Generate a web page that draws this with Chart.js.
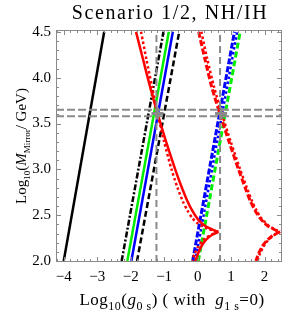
<!DOCTYPE html>
<html>
<head>
<meta charset="utf-8">
<script src="https://cdn.jsdelivr.net/npm/chart.js@4"></script>
<style>
  body { margin: 0; background: #fff; }
  canvas { display: block; }
</style>
</head>
<body>
<canvas id="myChart" width="291" height="313"></canvas>
<script>
// Axis ranges and tick labels
const xMin = -4.23, xMax = 2.52, yMin = 1.99, yMax = 4.52;
const xTicks = [-4, -3, -2, -1, 0, 1, 2];
const yTicks = [2.0, 2.5, 3.0, 3.5, 4.0, 4.5];

// Straight lines: x values at y = 2.0 and y = 4.5
const lineY = [2.0, 4.5];
const blackSolidX = [-4.0, -2.79];
const blackDashDotX = [-2.27, -1.02];
const greenSolidX = [-2.10, -0.86];
const blueSolidX = [-1.98, -0.74];
const blackDashedX = [-1.81, -0.55];
const blueDashedX = [-0.15, 1.10];
const blueDotX = [-0.07, 1.18];
const greenDashedX = [0.02, 1.27];

// Red curves: upper branch (top -> cusp) and lower branch (cusp -> bottom)
const upperY = [4.5, 4.2, 3.9, 3.6, 3.3, 3.0, 2.8, 2.65, 2.55, 2.47, 2.42, 2.38, 2.35, 2.33, 2.32];
const lowerY = [2.32, 2.29, 2.26, 2.22, 2.16, 2.08, 2.0];
const redSolidUpperX = [-1.84, -1.63, -1.42, -1.19, -0.94, -0.67, -0.47, -0.30, -0.16, -0.02, 0.10, 0.24, 0.40, 0.53, 0.62];
const redSolidLowerX = [0.62, 0.45, 0.33, 0.22, 0.11, 0.01, -0.07];
const redDotUpperX = [-1.69, -1.53, -1.36, -1.19, -1.00, -0.78, -0.60, -0.44, -0.30, -0.16, -0.03, 0.14, 0.33, 0.50, 0.62];
const redDotLowerX = [0.62, 0.42, 0.27, 0.14, 0.02, -0.09, -0.17];
const redDashUpperX = [0.03, 0.22, 0.42, 0.67, 0.94, 1.22, 1.42, 1.58, 1.72, 1.86, 1.98, 2.11, 2.26, 2.38, 2.46];
const redDashLowerX = [2.46, 2.30, 2.18, 2.06, 1.93, 1.82, 1.74];
const redDash2UpperX = [0.11, 0.29, 0.49, 0.73, 0.99, 1.27, 1.47, 1.63, 1.76, 1.90, 2.02, 2.14, 2.28, 2.39, 2.46];
const redDash2LowerX = [2.46, 2.31, 2.20, 2.09, 1.97, 1.86, 1.79];

// Gray reference lines and crossing markers
const grayVX = [-1.23, 0.67];
const grayHY = [3.58, 3.65];
const crossX = [-1.2, 0.7];
const crossY = [3.61, 3.61];

const GRAY = '#8a8a8a';
const SERIF = '"Liberation Serif", "DejaVu Serif", serif';

function pts(xs, ys) {
    return xs.map(function (x, i) { return { x: x, y: ys[i] }; });
}

function curve(label, xs, ys, color, width, dash, tension) {
    return {
        label: label,
        data: pts(xs, ys),
        borderColor: color,
        borderWidth: width,
        borderDash: dash || [],
        pointRadius: 0,
        tension: tension || 0,
        fill: false
    };
}

const datasets = [];
// gray markers and dashed guides (first = drawn on top)
datasets.push({
    label: 'cross',
    data: pts(crossX, crossY),
    showLine: false,
    pointStyle: 'cross',
    pointRadius: 6,
    borderWidth: 3,
    borderColor: GRAY,
    backgroundColor: GRAY
});
grayVX.forEach(function (x, i) {
    datasets.push(curve('v' + i, [x, x], [yMin, yMax], GRAY, 2, [7, 4]));
});
grayHY.forEach(function (y, i) {
    datasets.push(curve('h' + i, [xMin, xMax], [y, y], GRAY, 2, [8, 3]));
});
// red curves
datasets.push(curve('redSolidU', redSolidUpperX, upperY, '#ff0000', 2.5, [], 0.25));
datasets.push(curve('redSolidL', redSolidLowerX, lowerY, '#ff0000', 2.5, [], 0.25));
datasets.push(curve('redDotU', redDotUpperX, upperY, '#ff0000', 2.5, [2.5, 2.5], 0.25));
datasets.push(curve('redDotL', redDotLowerX, lowerY, '#ff0000', 2.5, [2.5, 2.5], 0.25));
datasets.push(curve('redDashU', redDashUpperX, upperY, '#ff0000', 3, [6, 2.5], 0.25));
datasets.push(curve('redDashL', redDashLowerX, lowerY, '#ff0000', 3, [6, 2.5], 0.25));
datasets.push(curve('redDash2U', redDash2UpperX, upperY, '#ff0000', 2.5, [2.5, 2.5], 0.25));
datasets.push(curve('redDash2L', redDash2LowerX, lowerY, '#ff0000', 2.5, [2.5, 2.5], 0.25));
// straight lines
datasets.push(curve('blueDashed', blueDashedX, lineY, '#0000ff', 3, [6, 2]));
datasets.push(curve('blueDot', blueDotX, lineY, '#0000ff', 2.5, [2.5, 2.5]));
datasets.push(curve('greenDashed', greenDashedX, lineY, '#00ee00', 3, [6, 3]));
datasets.push(curve('blackDashed', blackDashedX, lineY, '#000000', 2.5, [6, 3]));
datasets.push(curve('blueSolid', blueSolidX, lineY, '#0000ff', 2.5));
datasets.push(curve('greenSolid', greenSolidX, lineY, '#00ee00', 2.5));
datasets.push(curve('blackDashDot', blackDashDotX, lineY, '#000000', 2.5, [6, 2, 2, 2]));
datasets.push(curve('blackSolid', blackSolidX, lineY, '#000000', 2.5));

// Draw text made of normal / italic / subscript parts
function drawRich(ctx, parts, cx, baseY, size, subScale, spacing) {
    const subSize = Math.round(size * subScale);
    ctx.letterSpacing = spacing + 'px';
    let total = 0;
    parts.forEach(function (p) {
        ctx.font = (p[1] === 'i' ? 'italic ' : '') + (p[2] ? subSize : size) + 'px ' + SERIF;
        p.w = ctx.measureText(p[0]).width;
        total += p.w;
    });
    let x = cx - total / 2;
    ctx.textAlign = 'left';
    ctx.textBaseline = 'alphabetic';
    parts.forEach(function (p) {
        ctx.font = (p[1] === 'i' ? 'italic ' : '') + (p[2] ? subSize : size) + 'px ' + SERIF;
        ctx.fillText(p[0], x, baseY + (p[2] ? size * 0.28 : 0));
        x += p.w;
    });
    ctx.letterSpacing = '0px';
}

const framePlugin = {
    id: 'frame',
    afterDraw: function (chart) {
        const ctx = chart.ctx;
        const a = chart.chartArea;
        const xs = chart.scales.x, ys = chart.scales.y;
        ctx.save();
        // frame
        ctx.strokeStyle = GRAY;
        ctx.lineWidth = 1;
        ctx.strokeRect(a.left + 0.5, a.top + 0.5, a.right - a.left - 1, a.bottom - a.top - 1);
        // tick marks on all four sides
        ctx.beginPath();
        for (let k = -25; k <= 15; k++) {
            const xv = k * 0.2;
            if (xv < xMin || xv > xMax) continue;
            const px = Math.round(xs.getPixelForValue(xv)) + 0.5;
            const len = (k % 5 === 0) ? 5 : 3;
            ctx.moveTo(px, a.bottom); ctx.lineTo(px, a.bottom - len);
            ctx.moveTo(px, a.top); ctx.lineTo(px, a.top + len);
        }
        for (let k = 20; k <= 45; k++) {
            const yv = k * 0.1;
            const py = Math.round(ys.getPixelForValue(yv)) + 0.5;
            const len = (k % 5 === 0) ? 5 : 3;
            ctx.moveTo(a.left, py); ctx.lineTo(a.left + len, py);
            ctx.moveTo(a.right, py); ctx.lineTo(a.right - len, py);
        }
        ctx.stroke();
        // title and axis titles
        ctx.fillStyle = '#000';
        ctx.letterSpacing = '1.6px';
        ctx.font = '20px ' + SERIF;
        ctx.textAlign = 'center';
        ctx.textBaseline = 'middle';
        ctx.fillText('Scenario 1/2, NH/IH', 170, 14);
        ctx.letterSpacing = '0px';
        drawRich(ctx, [['Log', 'n'], ['10', 'n', true], ['(', 'n'], ['g', 'i'], ['0 s', 'n', true],
            [') ( with  ', 'n'], ['g', 'i'], ['1 s', 'n', true], ['=0)', 'n']], 172, 305, 17, 0.68, 0.5);
        ctx.translate(26, 146);
        ctx.rotate(-Math.PI / 2);
        drawRich(ctx, [['Log', 'n'], ['10', 'n', true], ['(', 'n'], ['M', 'i'], ['Mirror', 'n', true],
            ['/ GeV)', 'n']], 0, 0, 15, 0.6, 0);
        ctx.restore();
    }
};

const ctx = document.getElementById('myChart').getContext('2d');
window.myChart = new Chart(ctx, {
    type: 'line',
    data: { datasets: datasets },
    options: {
        responsive: false,
        animation: false,
        devicePixelRatio: 1,
        layout: { padding: { top: 30, right: 1, left: 0, bottom: 0 } },
        plugins: { legend: { display: false }, tooltip: { enabled: false } },
        scales: {
            x: {
                type: 'linear',
                min: xMin,
                max: xMax,
                grid: { display: false, drawTicks: false },
                border: { display: false },
                afterBuildTicks: function (s) { s.ticks = xTicks.map(function (v) { return { value: v }; }); },
                afterFit: function (s) { s.height = 51; },
                ticks: {
                    padding: 6,
                    maxRotation: 0,
                    color: '#000',
                    font: { family: SERIF, size: 15 },
                    callback: function (v) { return (v < 0 ? '\u2212' : '') + Math.abs(v); }
                }
            },
            y: {
                type: 'linear',
                min: yMin,
                max: yMax,
                grid: { display: false, drawTicks: false },
                border: { display: false },
                afterBuildTicks: function (s) { s.ticks = yTicks.map(function (v) { return { value: v }; }); },
                afterFit: function (s) { s.width = 56; },
                ticks: {
                    padding: 5,
                    color: '#000',
                    font: { family: SERIF, size: 15 },
                    callback: function (v) { return v.toFixed(1); }
                }
            }
        }
    },
    plugins: [framePlugin]
});
</script>
</body>
</html>
